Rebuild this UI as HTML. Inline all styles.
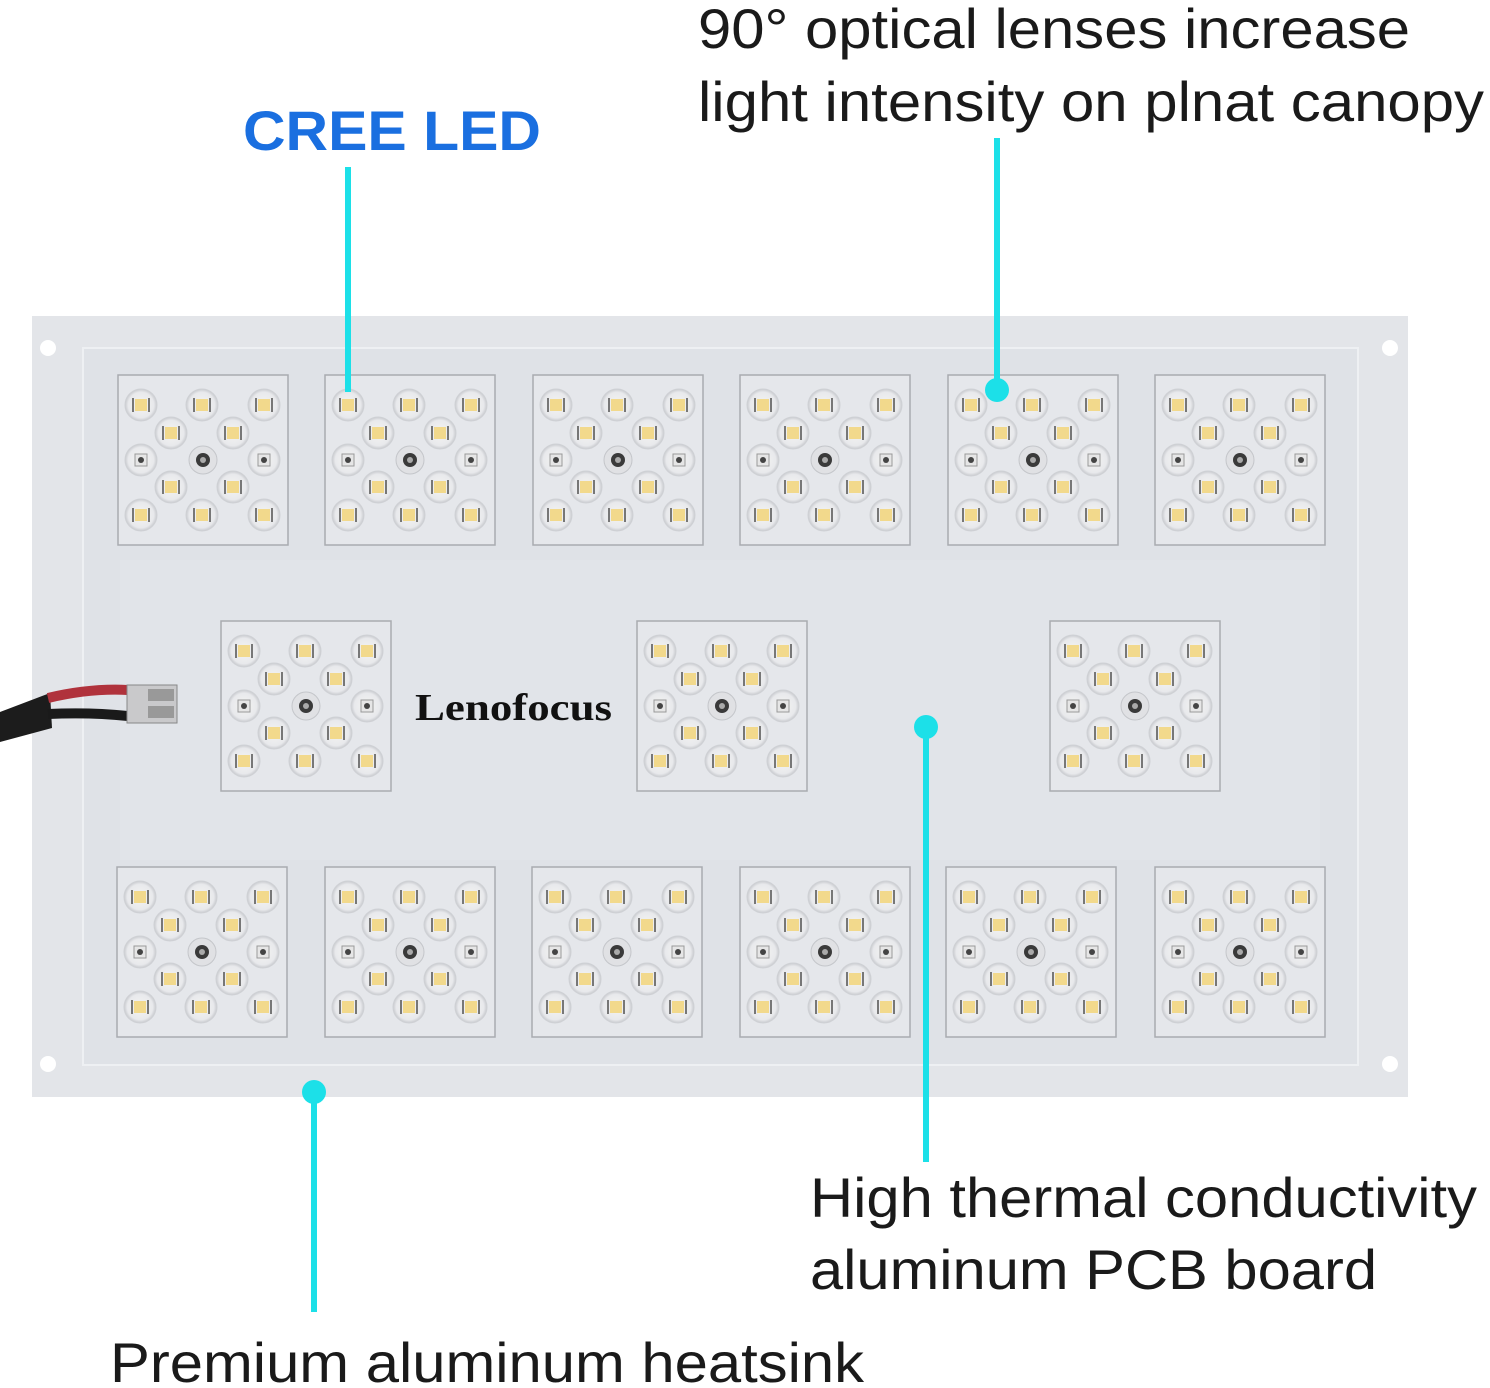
<!DOCTYPE html>
<html><head><meta charset="utf-8"><style>
html,body{margin:0;padding:0;background:#fff;}
svg{display:block;}
</style></head><body>
<svg width="1490" height="1388" viewBox="0 0 1490 1388" xmlns="http://www.w3.org/2000/svg">
<defs>
  <radialGradient id="lens" cx="0.5" cy="0.5" r="0.5">
    <stop offset="0" stop-color="#f4f4f2"/>
    <stop offset="0.8" stop-color="#e8e9ec"/>
    <stop offset="1" stop-color="#c8cace"/>
  </radialGradient>
  <g id="w"><circle r="16" fill="url(#lens)" stroke="#cfd1d5" stroke-width="1"/><rect x="-6" y="-6" width="12" height="12" fill="#f2d98c"/><rect x="-9" y="-7" width="2" height="14" fill="#777"/><rect x="7" y="-7" width="2" height="14" fill="#777"/></g>
  <g id="r"><circle r="16" fill="url(#lens)" stroke="#cfd1d5" stroke-width="1"/><rect x="-6" y="-6" width="12" height="12" fill="#e6e6e6" stroke="#999"/><circle r="3" fill="#444"/></g>
  <g id="mod">
    <rect x="0" y="0" width="170" height="170" fill="#e5e7eb" stroke="#a9abb0" stroke-width="1.5"/>
    <use href="#w" x="23" y="30"/><use href="#w" x="84" y="30"/><use href="#w" x="146" y="30"/>
    <use href="#w" x="53" y="58"/><use href="#w" x="115" y="58"/>
    <use href="#r" x="23" y="85"/><use href="#r" x="146" y="85"/>
    <circle cx="85" cy="85" r="14" fill="#e0e1e4" stroke="#c4c6ca"/><circle cx="85" cy="85" r="7" fill="#3a3a3a"/><circle cx="85" cy="85" r="3" fill="#aaa"/>
    <use href="#w" x="53" y="112"/><use href="#w" x="115" y="112"/>
    <use href="#w" x="23" y="140"/><use href="#w" x="84" y="140"/><use href="#w" x="146" y="140"/>
  </g>
</defs>
<!-- heatsink -->
<rect x="32" y="316" width="1376" height="781" fill="#e3e5e9"/>
<rect x="83" y="348" width="1275" height="717" fill="#dfe2e7" stroke="#eef0f3" stroke-width="2"/>
<rect x="120" y="560" width="1200" height="300" fill="#e1e4e9"/>
<circle cx="48" cy="348" r="8" fill="#fff"/><circle cx="1390" cy="348" r="8" fill="#fff"/>
<circle cx="48" cy="1064" r="8" fill="#fff"/><circle cx="1390" cy="1064" r="8" fill="#fff"/>
<!-- modules -->
<use href="#mod" x="118" y="375"/><use href="#mod" x="325" y="375"/><use href="#mod" x="533" y="375"/>
<use href="#mod" x="740" y="375"/><use href="#mod" x="948" y="375"/><use href="#mod" x="1155" y="375"/>
<use href="#mod" x="221" y="621"/><use href="#mod" x="637" y="621"/><use href="#mod" x="1050" y="621"/>
<use href="#mod" x="117" y="867"/><use href="#mod" x="325" y="867"/><use href="#mod" x="532" y="867"/>
<use href="#mod" x="740" y="867"/><use href="#mod" x="946" y="867"/><use href="#mod" x="1155" y="867"/>
<!-- cable -->
<path d="M0 712 L50 693 L52 728 L0 742 Z" fill="#1c1c1c"/>
<path d="M48 698 Q90 688 128 690" stroke="#b0323c" stroke-width="10" fill="none"/>
<path d="M48 714 Q90 712 128 716" stroke="#1a1a1a" stroke-width="10" fill="none"/>
<rect x="127" y="685" width="50" height="38" fill="#c9c9cb" stroke="#888"/>
<rect x="148" y="689" width="26" height="12" fill="#999"/><rect x="148" y="706" width="26" height="12" fill="#999"/>
<text x="415" y="720" font-family="Liberation Serif, serif" font-weight="bold" font-size="38" textLength="197" lengthAdjust="spacingAndGlyphs" fill="#111">Lenofocus</text>
<!-- callouts -->
<g stroke="#1ce0e8" stroke-width="6" fill="none">
  <line x1="348" y1="167" x2="348" y2="392"/>
  <line x1="997" y1="138" x2="997" y2="390"/>
  <line x1="926" y1="727" x2="926" y2="1162"/>
  <line x1="314" y1="1092" x2="314" y2="1312"/>
</g>
<g fill="#1ce0e8">
  <circle cx="997" cy="390" r="12"/><circle cx="926" cy="727" r="12"/><circle cx="314" cy="1092" r="12"/>
</g>
<g font-family="Liberation Sans, sans-serif" fill="#1a1a1a" font-size="56">
  <text x="243" y="150" font-weight="bold" fill="#1a6fe0" textLength="298" lengthAdjust="spacingAndGlyphs">CREE LED</text>
  <text x="698" y="48" textLength="712" lengthAdjust="spacingAndGlyphs">90° optical lenses increase</text>
  <text x="698" y="121" textLength="786" lengthAdjust="spacingAndGlyphs">light intensity on plnat canopy</text>
  <text x="810" y="1217" textLength="667" lengthAdjust="spacingAndGlyphs">High thermal conductivity</text>
  <text x="810" y="1289" textLength="567" lengthAdjust="spacingAndGlyphs">aluminum PCB board</text>
  <text x="110" y="1382" textLength="754" lengthAdjust="spacingAndGlyphs">Premium aluminum heatsink</text>
</g>
</svg>
</body></html>
